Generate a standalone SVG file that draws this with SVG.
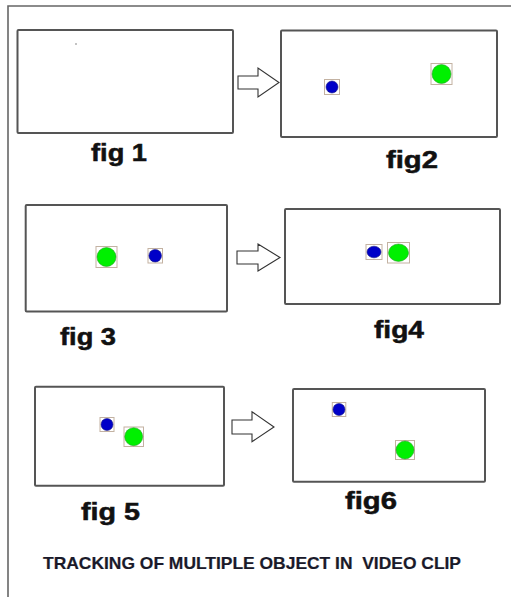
<svg xmlns="http://www.w3.org/2000/svg" width="511" height="597" viewBox="0 0 511 597">
<style>
.frame{fill:#fff;stroke:#555;stroke-width:2}
.outer{fill:none;stroke:#666;stroke-width:1.6}
.arrow{fill:#fff;stroke:#333;stroke-width:1.1;stroke-linejoin:miter}
.box{fill:#fff;stroke:#c3b2a2;stroke-width:1}
.blue{fill:#0000c8;stroke:#1a1a80;stroke-width:0.6}
.green{fill:#00f000;stroke:#2a9a2a;stroke-width:0.6}
.lbl{font-family:"Liberation Sans",Arial,sans-serif;font-weight:bold;font-size:23px;fill:#111;stroke:#111;stroke-width:0.5}
.title{font-family:"Liberation Sans",Arial,sans-serif;font-weight:bold;font-size:17px;fill:#1a1a2a;stroke:#1a1a2a;stroke-width:0.2}
</style>
<rect width="511" height="597" fill="#fff"/>
<path class="outer" d="M8,597 V6 H511"/>

<g id="fig1">
<rect class="frame" x="17.5" y="30" width="215.5" height="103" rx="1"/>
<circle cx="76" cy="44" r="0.8" fill="#777"/>
<text class="lbl" x="91" y="161" textLength="56" lengthAdjust="spacingAndGlyphs">fig 1</text>
</g>

<g id="fig2">
<rect class="frame" x="281" y="30.5" width="216" height="106.5" rx="1"/>
<rect class="box" x="324.5" y="79.5" width="15" height="15"/>
<circle class="blue" cx="332" cy="87" r="6"/>
<rect class="box" x="431" y="63.5" width="21" height="21"/>
<circle class="green" cx="441.5" cy="74" r="9.5"/>
<text class="lbl" x="386" y="167.5" textLength="52" lengthAdjust="spacingAndGlyphs">fig2</text>
</g>

<g id="fig3">
<rect class="frame" x="25.7" y="205" width="201.3" height="106.5" rx="1"/>
<rect class="box" x="96" y="246.5" width="21" height="21"/>
<circle class="green" cx="106.5" cy="257" r="9.5"/>
<rect class="box" x="148" y="248.5" width="14.5" height="14.5"/>
<circle class="blue" cx="155.2" cy="255.7" r="6.3"/>
<text class="lbl" x="60" y="345" textLength="56" lengthAdjust="spacingAndGlyphs">fig 3</text>
</g>

<g id="fig4">
<rect class="frame" x="285" y="209" width="215" height="95" rx="1"/>
<rect class="box" x="366" y="244.5" width="16" height="15"/>
<ellipse class="blue" cx="374" cy="252" rx="7" ry="5.8"/>
<rect class="box" x="387.5" y="242.5" width="22" height="20.5"/>
<ellipse class="green" cx="398.5" cy="252.7" rx="10" ry="8.7"/>
<text class="lbl" x="374" y="338" textLength="50" lengthAdjust="spacingAndGlyphs">fig4</text>
</g>

<g id="fig5">
<rect class="frame" x="35" y="386.7" width="189" height="99" rx="1"/>
<rect class="box" x="100" y="417.5" width="14" height="14"/>
<circle class="blue" cx="107" cy="424.5" r="6"/>
<rect class="box" x="124" y="427" width="19.5" height="19.5"/>
<circle class="green" cx="133.7" cy="436.7" r="9"/>
<text class="lbl" x="81" y="520" textLength="59" lengthAdjust="spacingAndGlyphs">fig 5</text>
</g>

<g id="fig6">
<rect class="frame" x="293" y="389" width="192" height="92.7" rx="1"/>
<rect class="box" x="332.3" y="402.5" width="13.5" height="14"/>
<circle class="blue" cx="339" cy="409.5" r="6"/>
<rect class="box" x="395.5" y="440.5" width="19" height="19"/>
<circle class="green" cx="405" cy="450" r="9"/>
<text class="lbl" x="345" y="509" textLength="52" lengthAdjust="spacingAndGlyphs">fig6</text>
</g>

<g id="connectors">
<polygon class="arrow" points="238,76 258,76 258,68 279,82.5 258,97 258,89 238,89"/>
<polygon class="arrow" points="237,251 258,251 258,244 280,257.5 258,271 258,264 237,264"/>
<polygon class="arrow" points="232,420 252,420 252,411.7 274,427 252,441.7 252,434 232,434"/>
</g>

<text class="title" x="43" y="569" textLength="418" lengthAdjust="spacingAndGlyphs">TRACKING OF MULTIPLE OBJECT IN&#160; VIDEO CLIP</text>
</svg>
